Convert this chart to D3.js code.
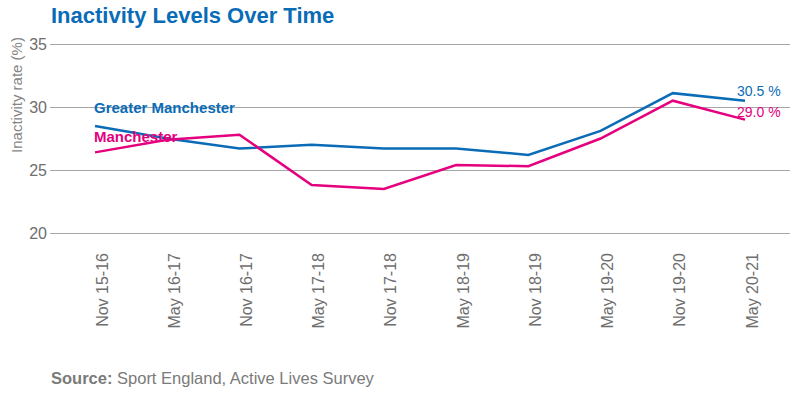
<!DOCTYPE html>
<html><head><meta charset="utf-8">
<script src="https://cdn.jsdelivr.net/npm/d3@7"></script>
<style>body{margin:0;background:#fff;font-family:"Liberation Sans",Arial,sans-serif;}</style>
</head><body>
<svg id="c" width="797" height="393"></svg>
<script>
const categories = ["Nov 15-16","May 16-17","Nov 16-17","May 17-18","Nov 17-18","May 18-19","Nov 18-19","May 19-20","Nov 19-20","May 20-21"];
const greaterManchester = [28.5, 27.5, 26.7, 27.0, 26.7, 26.7, 26.2, 28.1, 31.1, 30.5];
const manchester = [26.4, 27.4, 27.8, 23.8, 23.5, 25.4, 25.3, 27.5, 30.5, 29.0];
const yTicks = [20, 25, 30, 35];
const seriesNames = ["Greater Manchester", "Manchester"];

const blue = "#0a6cb7", pink = "#e5007e", grey = "#7a7a7a";
const svg = d3.select("#c");
const x = d3.scalePoint().domain(categories).range([95, 745]);
const y = d3.scaleLinear().domain([20, 35]).range([233, 44]);

svg.append("text").attr("x", 51).attr("y", 23).attr("fill", blue)
  .attr("font-size", 22).attr("font-weight", "bold").text("Inactivity Levels Over Time");

const yAxis = svg.append("g").attr("transform", "translate(50,0)")
  .call(d3.axisLeft(y).tickValues(yTicks).tickSize(-740).tickFormat(d3.format("d")));
yAxis.select(".domain").remove();
yAxis.selectAll(".tick line").attr("stroke", "#a6a6a6").attr("stroke-width", 1);
yAxis.selectAll(".tick text").attr("fill", "#6e6e6e").attr("font-size", 16)
  .attr("x", -3).attr("font-family", "Liberation Sans, Arial, sans-serif");

svg.append("text").attr("transform", "translate(22,95) rotate(-90)")
  .attr("text-anchor", "middle").attr("fill", "#858585").attr("font-size", 15)
  .text("Inactivity rate (%)");

const xAxis = svg.append("g").attr("transform", "translate(0,247)")
  .call(d3.axisBottom(x).tickSize(0));
xAxis.select(".domain").remove();
xAxis.selectAll(".tick text").attr("fill", "#6e6e6e").attr("font-size", 16)
  .attr("font-family", "Liberation Sans, Arial, sans-serif")
  .attr("text-anchor", "end").attr("transform", "rotate(-90)")
  .attr("x", 0).attr("y", 0).attr("dx", "-6").attr("dy", "0.75em");

const line = d3.line().x((d, i) => x(categories[i])).y(d => y(d));
svg.append("path").datum(greaterManchester).attr("d", line).attr("fill", "none")
  .attr("stroke", blue).attr("stroke-width", 2.5);
svg.append("path").datum(manchester).attr("d", line).attr("fill", "none")
  .attr("stroke", pink).attr("stroke-width", 2.5);

svg.append("text").attr("x", 94).attr("y", 113).attr("fill", blue)
  .attr("font-size", 15).attr("font-weight", "bold").text(seriesNames[0]);
svg.append("text").attr("x", 94).attr("y", 142).attr("fill", pink)
  .attr("font-size", 15).attr("font-weight", "bold").text(seriesNames[1]);

const last = categories.length - 1;
svg.append("text").attr("x", x(categories[last]) - 8).attr("y", y(greaterManchester[last]) - 5)
  .attr("fill", blue).attr("font-size", 14).text(greaterManchester[last].toFixed(1) + " %");
svg.append("text").attr("x", x(categories[last]) - 8).attr("y", y(manchester[last]) - 3)
  .attr("fill", pink).attr("font-size", 14).text(manchester[last].toFixed(1) + " %");

const src = svg.append("text").attr("x", 51).attr("y", 384).attr("fill", grey).attr("font-size", 16.5);
src.append("tspan").attr("font-weight", "bold").text("Source:");
src.append("tspan").text(" Sport England, Active Lives Survey");
</script>
</body></html>
